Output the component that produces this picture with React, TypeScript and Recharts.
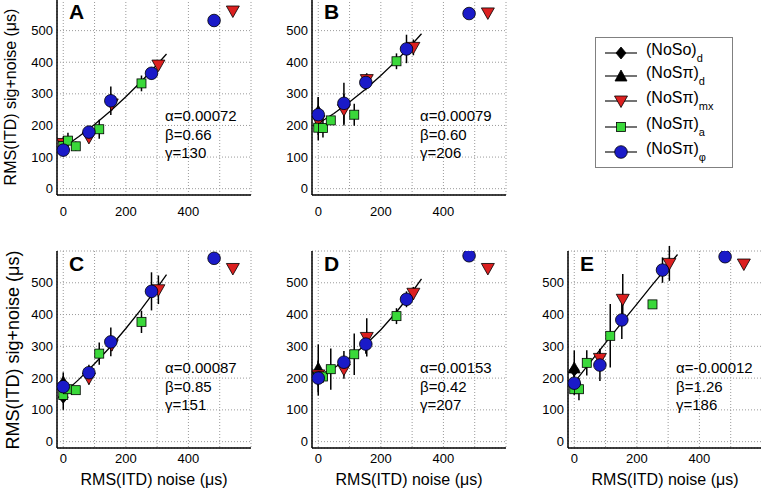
import { ScatterChart, Scatter, XAxis, YAxis, CartesianGrid, ErrorBar } from 'recharts'

const panelNames = ['A', 'B', 'C', 'D', 'E']
const alphaText = ['0.00072', '0.00079', '0.00087', '0.00153', '-0.00012']
const betaText = ['0.66', '0.60', '0.85', '0.42', '1.26']
const gammaText = ['130', '206', '151', '207', '186']

const xTicks = [0, 100, 200, 300, 400, 500]
const yTicks = [0, 100, 200, 300, 400, 500]

// RMS(ITD) noise (µs) for each condition
const phiX = [0, 82, 152, 282, 482]
const mxX = [0, 82, 155, 304, 542]
const aX = [0, 15, 40, 115, 250]
const dX = [0]
const fitX = [0, 50, 100, 150, 200, 250, 300, 330]

// RMS(ITD) sig+noise, one row per panel A..E
const phiY = [
  [122, 179, 278, 365, 532],
  [234, 270, 336, 442, 554],
  [173, 217, 314, 473, 577],
  [200, 250, 307, 448, 585],
  [184, 241, 383, 540, 582],
]
const phiErr = [
  [20, 15, 45, 20, 18],
  [55, 65, 25, 45, 0],
  [30, 25, 45, 60, 15],
  [55, 35, 30, 25, 15],
  [30, 50, 60, 40, 0],
]
const mxY = [
  [143, 162, 268, 391, 562],
  [215, 250, 345, 447, 556],
  [160, 200, 305, 478, 545],
  [210, 228, 328, 467, 545],
  [168, 262, 448, 561, 559],
]
const mxErr = [
  [10, 10, 20, 15, 0],
  [20, 50, 20, 25, 0],
  [15, 20, 20, 45, 10],
  [20, 30, 60, 20, 0],
  [20, 30, 80, 55, 0],
]
const aY = [
  [135, 152, 134, 188, 333],
  [193, 192, 216, 234, 403],
  [147, 165, 162, 277, 377],
  [205, 205, 228, 275, 395],
  [165, 165, 248, 333, 432],
]
const aErr = [
  [15, 25, 15, 30, 25],
  [40, 30, 10, 35, 25],
  [20, 10, 10, 35, 35],
  [15, 20, 65, 65, 25],
  [10, 35, 40, 100, 10],
]
const soY = [[128], [200], [140], [215], [225]]
const soErr = [[15], [30], [40], [40], [20]]
const spY = [[140], [245], [188], [231], [232]]
const spErr = [[25], [45], [30], [75], [55]]

// fitted curves as drawn in each panel
const fitY = [
  [130, 165, 203, 245, 291, 340, 393, 426],
  [206, 238, 274, 314, 358, 405, 457, 490],
  [151, 196, 245, 298, 356, 418, 484, 526],
  [207, 232, 264, 304, 352, 408, 471, 512],
  [186, 249, 311, 372, 433, 494, 553, 589],
]

const layout = [
  { left: 57, top: -1, h: 196, tm: 12 },
  { left: 312, top: -1, h: 196, tm: 12 },
  { left: 57, top: 251, h: 197, tm: 6 },
  { left: 312, top: 251, h: 197, tm: 6 },
  { left: 568, top: 251, h: 197, tm: 6 },
]
const PLOT_W = 194
const PAD_L = 50
const PAD_T = 12
const PAD_B = 40
const PAD_R = 10
const FONT = '"Liberation Sans", Arial, sans-serif'

const BLUE = '#1a1ac8'
const RED = '#dc2020'
const GREEN = '#3ad83a'

const Circle = (p: any) => <circle cx={p.cx} cy={p.cy} r={6.3} fill={BLUE} stroke="#000" strokeWidth={0.8} />
const Square = (p: any) => <rect x={p.cx - 4.5} y={p.cy - 4.5} width={9} height={9} fill={GREEN} stroke="#000" strokeWidth={0.8} />
const TriDown = (p: any) => (
  <polygon points={`${p.cx - 6.5},${p.cy - 5} ${p.cx + 6.5},${p.cy - 5} ${p.cx},${p.cy + 6.5}`} fill={RED} stroke="#000" strokeWidth={0.8} />
)
const TriUp = (p: any) => (
  <polygon points={`${p.cx - 6},${p.cy + 5} ${p.cx + 6},${p.cy + 5} ${p.cx},${p.cy - 6}`} fill="#000" stroke="#000" strokeWidth={0.8} />
)
const Diamond = (p: any) => (
  <polygon points={`${p.cx},${p.cy - 6} ${p.cx + 5},${p.cy} ${p.cx},${p.cy + 6} ${p.cx - 5},${p.cy}`} fill="#000" stroke="#000" strokeWidth={0.8} />
)
const NoShape = () => <g />

const pts = (xs: number[], ys: number[], es?: number[]) => xs.map((x, i) => ({ x, y: ys[i], e: es ? es[i] : 0 }))

function Panel({ p }: { p: number }) {
  const L = layout[p]
  const errBar = <ErrorBar dataKey="e" direction="y" width={0} stroke="#000" strokeWidth={1.5} isAnimationActive={false} />
  return (
    <div style={{ position: 'absolute', left: L.left - PAD_L, top: L.top - PAD_T }}>
      <ScatterChart
        width={PAD_L + PLOT_W + PAD_R}
        height={PAD_T + L.h + PAD_B}
        margin={{ top: PAD_T, right: PAD_R, bottom: 0, left: 0 }}
      >
        <CartesianGrid stroke="#9a9a9a" strokeDasharray="1 2" />
        <XAxis
          type="number" dataKey="x" domain={[-20, 600]} ticks={xTicks} interval={0}
          tickFormatter={(v: number) => (v % 200 === 0 ? String(v) : '')}
          height={PAD_B} tickLine={false} tickSize={0} tickMargin={L.tm}
          axisLine={{ stroke: '#000', strokeWidth: 1.5 }}
          tick={{ fontSize: 13, fill: '#000', fontFamily: FONT }}
          allowDataOverflow
        />
        <YAxis
          type="number" dataKey="y" domain={[-20, 600]} ticks={yTicks} interval={0}
          width={PAD_L} tickLine={false} tickSize={0} tickMargin={4}
          axisLine={{ stroke: '#000', strokeWidth: 1.5 }}
          tick={{ fontSize: 13, fill: '#000', fontFamily: FONT }}
          allowDataOverflow
        />
        <Scatter data={pts(fitX, fitY[p])} line={{ stroke: '#000', strokeWidth: 1.3 }} shape={NoShape} isAnimationActive={false} />
        <Scatter data={pts(dX, soY[p], soErr[p])} shape={Diamond} isAnimationActive={false}>{errBar}</Scatter>
        <Scatter data={pts(dX, spY[p], spErr[p])} shape={TriUp} isAnimationActive={false}>{errBar}</Scatter>
        <Scatter data={pts(mxX, mxY[p], mxErr[p])} shape={TriDown} isAnimationActive={false}>{errBar}</Scatter>
        <Scatter data={pts(aX, aY[p], aErr[p])} shape={Square} isAnimationActive={false}>{errBar}</Scatter>
        <Scatter data={pts(phiX, phiY[p], phiErr[p])} shape={Circle} isAnimationActive={false}>{errBar}</Scatter>
      </ScatterChart>
    </div>
  )
}

const legendRows = [
  { y: 53, Shape: Diamond, label: '(NoSo)', sub: 'd' },
  { y: 76, Shape: TriUp, label: '(NoSπ)', sub: 'd' },
  { y: 101, Shape: TriDown, label: '(NoSπ)', sub: 'mx' },
  { y: 127, Shape: Square, label: '(NoSπ)', sub: 'a' },
  { y: 152, Shape: Circle, label: '(NoSπ)', sub: 'φ' },
]

export default function App() {
  return (
    <div style={{ position: 'absolute', left: 0, top: 0, width: 761, height: 495, background: '#fff', overflow: 'hidden' }}>
      {panelNames.map((_, p) => <Panel key={p} p={p} />)}
      <svg width={761} height={495} style={{ position: 'absolute', left: 0, top: 0, pointerEvents: 'none' }} fontFamily={FONT}>
        {panelNames.map((name, p) => {
          const L = layout[p]
          const tx = L.left + 108
          return (
            <g key={name}>
              <text x={L.left + 12} y={L.top + 20} fontSize={21} fontWeight="bold">{name}</text>
              <text x={tx} y={L.top + 122} fontSize={15}>α={alphaText[p]}</text>
              <text x={tx} y={L.top + 140.5} fontSize={15}>β={betaText[p]}</text>
              <text x={tx} y={L.top + 159} fontSize={15}>γ={gammaText[p]}</text>
            </g>
          )
        })}
        <text transform="translate(10,97) rotate(-90)" textAnchor="middle" dominantBaseline="central" fontSize={16}>RMS(ITD) sig+noise (μs)</text>
        <text transform="translate(13,350) rotate(-90)" textAnchor="middle" dominantBaseline="central" fontSize={18}>RMS(ITD) sig+noise (μs)</text>
        {[2, 3, 4].map(p => (
          <text key={p} x={layout[p].left + PLOT_W / 2} y={485} textAnchor="middle" fontSize={16}>RMS(ITD) noise (μs)</text>
        ))}
        <rect x={595.5} y={37.5} width={137} height={130} fill="#fff" stroke="#808080" />
        {legendRows.map(r => (
          <g key={r.y + r.sub}>
            <line x1={605} x2={637} y1={r.y} y2={r.y} stroke="#444" strokeWidth={1.5} />
            <r.Shape cx={621} cy={r.y} />
            <text x={646} y={r.y + 1.5} fontSize={16}>
              {r.label}
              <tspan dy={7} fontSize={11}>{r.sub}</tspan>
            </text>
          </g>
        ))}
      </svg>
    </div>
  )
}
